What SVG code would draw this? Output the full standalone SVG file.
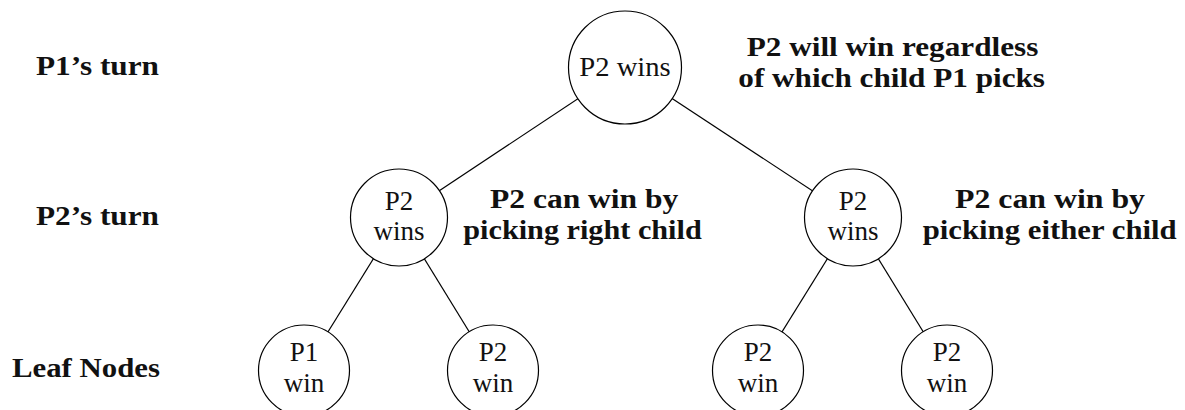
<svg xmlns="http://www.w3.org/2000/svg" width="1185" height="410" viewBox="0 0 1185 410">
<style>
.n{fill:#fff;stroke:#000;stroke-width:1.2}
.e{stroke:#000;stroke-width:1.2;fill:none}
text{font-family:'Liberation Serif','DejaVu Serif',serif;font-size:27px;fill:#111}
.t{text-anchor:middle}
.b{font-weight:bold}
</style>
<rect width="1185" height="410" fill="#fff"/>
<g id="connectors">
<line class="e" x1="625" y1="67.5" x2="399" y2="217.5"/>
<line class="e" x1="625" y1="67.5" x2="853" y2="217.5"/>
<line class="e" x1="399" y1="217.5" x2="304" y2="370.5"/>
<line class="e" x1="399" y1="217.5" x2="493" y2="370.5"/>
<line class="e" x1="853" y1="217.5" x2="758" y2="370.5"/>
<line class="e" x1="853" y1="217.5" x2="947" y2="370.5"/>
</g>
<g id="root" font-family="Liberation Serif, serif">
<circle class="n" cx="625" cy="67.5" r="56.5"/>
<text class="t" x="625" y="76" textLength="91.5" lengthAdjust="spacingAndGlyphs">P2 wins</text>
</g>
<g id="mid-left">
<circle class="n" cx="399" cy="217.5" r="48.5"/>
<text class="t" x="399" y="209.5">P2</text>
<text class="t" x="399" y="240">wins</text>
</g>
<g id="mid-right">
<circle class="n" cx="853" cy="217.5" r="48.5"/>
<text class="t" x="853" y="209.5">P2</text>
<text class="t" x="853" y="240">wins</text>
</g>
<g id="leaf1">
<circle class="n" cx="304" cy="370.5" r="45.5"/>
<text class="t" x="304" y="361">P1</text>
<text class="t" x="304" y="391.5">win</text>
</g>
<g id="leaf2">
<circle class="n" cx="493" cy="370.5" r="45.5"/>
<text class="t" x="493" y="361">P2</text>
<text class="t" x="493" y="391.5">win</text>
</g>
<g id="leaf3">
<circle class="n" cx="758" cy="370.5" r="45.5"/>
<text class="t" x="758" y="361">P2</text>
<text class="t" x="758" y="391.5">win</text>
</g>
<g id="leaf4">
<circle class="n" cx="947" cy="370.5" r="45.5"/>
<text class="t" x="947" y="361">P2</text>
<text class="t" x="947" y="391.5">win</text>
</g>
<g id="level-labels">
<text class="b" x="36" y="75" textLength="123" lengthAdjust="spacingAndGlyphs">P1’s turn</text>
<text class="b" x="36" y="225" textLength="123" lengthAdjust="spacingAndGlyphs">P2’s turn</text>
<text class="b" x="12" y="376.5" textLength="148" lengthAdjust="spacingAndGlyphs">Leaf Nodes</text>
</g>
<g id="annotations">
<text class="b" x="746.7" y="55.5" textLength="291.7" lengthAdjust="spacingAndGlyphs">P2 will win regardless</text>
<text class="b" x="738.3" y="86.5" textLength="306.7" lengthAdjust="spacingAndGlyphs">of which child P1 picks</text>
<text class="b" x="490" y="207.5" textLength="188.3" lengthAdjust="spacingAndGlyphs">P2 can win by</text>
<text class="b" x="463.3" y="238.5" textLength="238.4" lengthAdjust="spacingAndGlyphs">picking right child</text>
<text class="b" x="955" y="207.5" textLength="190" lengthAdjust="spacingAndGlyphs">P2 can win by</text>
<text class="b" x="922.7" y="238.5" textLength="254" lengthAdjust="spacingAndGlyphs">picking either child</text>
</g>
</svg>
